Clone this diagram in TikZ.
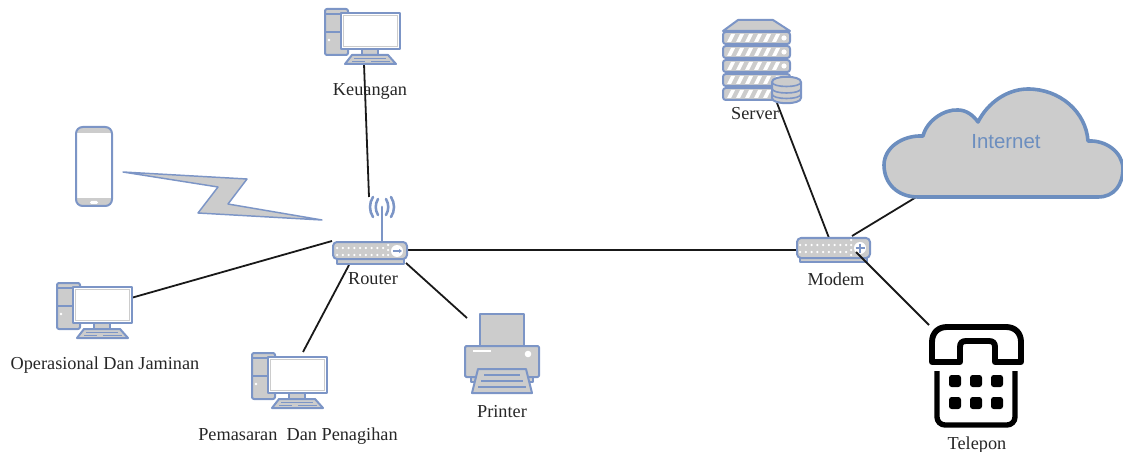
\documentclass[tikz,border=0pt]{standalone}
\usepackage{fontspec}
\setmainfont{Liberation Serif}
\newfontfamily\cloudfont{Liberation Sans}
\definecolor{iconblue}{HTML}{7C95C6}
\definecolor{icongrey}{HTML}{CCCCCC}
\definecolor{cloudblue}{HTML}{6C8EBF}
\tikzset{
  x=0.75pt,y=-0.75pt,
  lbl/.style={inner sep=0pt,font=\fontsize{13.7pt}{15pt}\selectfont,text=black!85},
  link/.style={draw=black!90,line width=1.35pt},
  icon/.style={draw=iconblue,fill=icongrey,line width=1.5pt,line join=round},
  iconw/.style={draw=iconblue,fill=white,line width=1.5pt,line join=round},
  computer/.pic={
    \draw[icon,rounded corners=1.5pt] (0,0) rectangle (23,46);
    \draw[iconblue,line width=1pt] (0,5) -- (23,5) (0,23) -- (23,23);
    \fill[white] (4,31) circle (1.3);
    \draw[icon] (37,40) rectangle (53,46);
    \draw[iconw] (16,4) rectangle (75,40);
    \draw[icongrey,line width=.8pt] (18.5,6.5) rectangle (72.5,37.5);
    \draw[icon] (27,46) -- (63,46) -- (71,55) -- (20,55) -- cycle;
    \draw[iconblue,line width=.7pt] (29,49) -- (61,49) (27,52) -- (40,52) (46,52) -- (65,52);
  },
  hubdots/.pic={
    \foreach \px in {0,5.75,...,46} {
      \fill[white] (\px,0) circle (1.25);
      \fill[white] (\px,7) circle (1.25);
    }
  }
}
\begin{document}
\begin{tikzpicture}
\useasboundingbox (0,0) rectangle (1123,452);
% connector ends
\coordinate (keu-s) at (364,64);
\coordinate (rou-n) at (369,197);
\coordinate (ope-e) at (131,298);
\coordinate (rou-w) at (332,241);
\coordinate (pem-n) at (303,352);
\coordinate (rou-s) at (349,265);
\coordinate (pri-n) at (467,318);
\coordinate (rou-se) at (406,263);
\coordinate (rou-e) at (407,250);
\coordinate (mod-w) at (797,250);
\coordinate (ser-s) at (777,103);
\coordinate (mod-n) at (829,238);
\coordinate (mod-ne) at (852,236);
\coordinate (clo-s) at (918,196);
\coordinate (mod-se) at (856,252);
\coordinate (tel-n) at (929,325);
% connectors
\draw[link] (keu-s) -- (rou-n);
\draw[link] (ope-e) -- (rou-w);
\draw[link] (pem-n) -- (rou-s);
\draw[link] (pri-n) -- (rou-se);
\draw[link] (rou-e) -- (mod-w);
\draw[link] (ser-s) -- (mod-n);
\draw[link] (mod-ne) -- (clo-s);
% computers
\pic at (325,9) {computer};
\pic at (57,283) {computer};
\pic at (252,353) {computer};
% phone
\begin{scope}
  \clip[rounded corners=5pt] (76,127) rectangle (112,206);
  \fill[white] (76,127) rectangle (112,206);
  \fill[icongrey] (76,127) rectangle (112,133);
  \fill[icongrey] (76,198) rectangle (112,206);
\end{scope}
\draw[draw=iconblue,line width=1.5pt,rounded corners=5pt] (76,127) rectangle (112,206);
\fill[white,rounded corners=1pt] (90,201) rectangle (98,204);
% bolt
\draw[icon,line width=1.1pt,line join=round]
  (123,172) -- (247,179) -- (228,204) -- (322,220) -- (198,213) -- (218,187) -- cycle;
% router
\draw[icon] (337,258) -- (337,264) -- (404,264) -- (404,258);
\draw[iconblue,line width=2.2pt,line cap=round] (382,241) -- (382,207);
\draw[iconblue,line width=1.9pt,line cap=round]
  (378,199) .. controls (375,204) and (375,210) .. (378,215)
  (373,197) .. controls (369,203) and (369,211) .. (373,217)
  (386,199) .. controls (389,204) and (389,210) .. (386,215)
  (391,197) .. controls (395,203) and (395,211) .. (391,217);
\draw[icon,rounded corners=3pt] (333,242) rectangle (407,259);
\pic at (337,248) {hubdots};
\foreach \dy in {245,250,255} \fill[white] (388,\dy) circle (1.25);
\fill[white] (397,251) circle (6);
\draw[iconblue,line width=.9pt] (393,251) -- (400,251);
\fill[iconblue] (402,251) -- (399,249) -- (399,253) -- cycle;
% modem
\draw[icon] (800,257) -- (800,262) -- (867,262) -- (867,257);
\draw[icon,rounded corners=3pt] (797,238) rectangle (870,258);
\pic at (800,245) {hubdots};
\foreach \dy in {240,245,250,255} \fill[white] (851,\dy) circle (1.25);
\fill[white] (860,248) circle (6);
\draw[iconblue,line width=.8pt] (855.5,248) -- (864.5,248) (860,243.5) -- (860,252.5);
\draw[link] (mod-se) -- (tel-n);
% server
\draw[icon] (723,31) -- (738,20) -- (773,20) -- (790,31) -- cycle;
\foreach \ty in {32,46,60,74,88} {
  \draw[icon,rounded corners=2pt] (723,\ty) rectangle (790,\ty+12);
  \foreach \sx in {727,736,...,772} {
    \fill[white] (\sx,\ty+10) -- (\sx+4,\ty+2) -- (\sx+8,\ty+2) -- (\sx+4,\ty+10) -- cycle;
  }
  \fill[white] (784,\ty+6) circle (2.6);
}
% database
\draw[icon] (772,82) -- (772,98) .. controls (772,105) and (801,105) .. (801,98) -- (801,82)
  .. controls (801,75) and (772,75) .. (772,82) -- cycle;
\draw[iconblue,line width=1.2pt]
  (772,82) .. controls (772,88) and (801,88) .. (801,82)
  (772,88.5) .. controls (772,94.5) and (801,94.5) .. (801,88.5)
  (772,94) .. controls (772,100) and (801,100) .. (801,94);
% printer
\draw[icon] (480,314) rectangle (524,347);
\draw[icon] (471,376) rectangle (533,382);
\draw[icon,rounded corners=1pt] (465,346) rectangle (539,377);
\fill[white] (473,350) rectangle (491,352);
\fill[white] (528,354) circle (3.3);
\draw[icon] (478,369) -- (526,369) -- (532,393) -- (472,393) -- cycle;
\draw[iconblue,line width=1pt] (484,375) -- (520,375) (481,381) -- (523,381) (478,387) -- (526,387);
% telephone
\draw[black,line width=4.4pt,line join=round]
  (932,362) -- (932,342) .. controls (932,333) and (938,327) .. (947,327) -- (1006,327)
  .. controls (1015,327) and (1021,333) .. (1021,342) -- (1021,362) -- (995,362) -- (995,347)
  .. controls (995,343) and (993,341) .. (989,341) -- (966,341)
  .. controls (962,341) and (960,343) .. (960,347) -- (960,362) -- cycle;
\draw[black,line width=4pt,rounded corners=6pt] (937,371) -- (937,425) -- (1015,425) -- (1015,371);
\foreach \kx in {955,976,997} \foreach \ky in {381,403}
  \fill[black,rounded corners=2pt] (\kx-6,\ky-6) rectangle (\kx+6,\ky+6);
% cloud
\draw[draw=cloudblue,fill=icongrey,line width=2.7pt,line join=round]
  (918,197) .. controls (897,197) and (884,183) .. (884,165)
  .. controls (884,148) and (902,135) .. (923,136)
  .. controls (927,120) and (945,109) .. (958,110)
  .. controls (966,110) and (973,115) .. (978,122)
  .. controls (988,102) and (1008,89) .. (1028,89)
  .. controls (1060,89) and (1086,112) .. (1088,141)
  .. controls (1106,140) and (1122,152) .. (1123,168)
  .. controls (1123,185) and (1114,197) .. (1098,197) -- cycle;
% labels
\node[lbl] (keu) at (370,91) {Keuangan};
\node[lbl] (rou) at (373,279) {Router};
\node[lbl] (ope) at (105,365) {Operasional Dan Jaminan};
\node[lbl] (pem) at (298,436) {Pemasaran\ \ Dan Penagihan};
\node[lbl] (pri) at (502,412) {Printer};
\node[lbl] (ser) at (755,114) {Server};
\node[lbl] (mod) at (836,279) {Modem};
\node[lbl] (tel) at (977,445) {Telepon};
\node[inner sep=0pt,font=\cloudfont\fontsize{15.3pt}{17pt}\selectfont,text=cloudblue] (inet) at (1006,142) {Internet};
\end{tikzpicture}
\end{document}
